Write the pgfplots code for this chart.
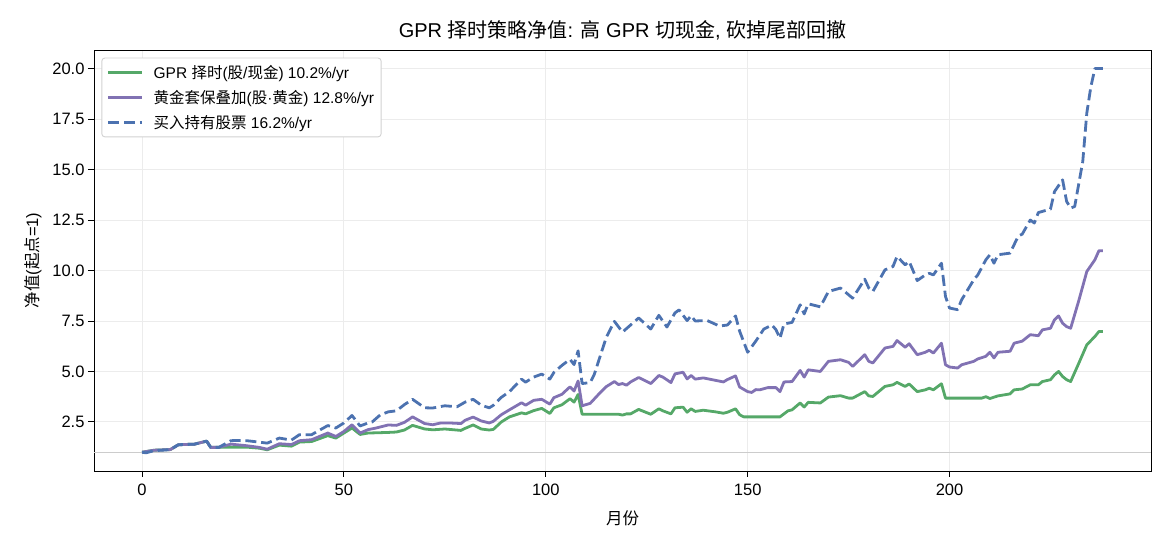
\documentclass[border=0pt]{standalone}
\usepackage{pgfplots}
\pgfplotsset{compat=1.18}
\usepackage{fontspec}
\setmainfont{Liberation Sans}
\newfontfamily\cjk{Noto Sans CJK SC}
\definecolor{cgreen}{HTML}{55A868}
\definecolor{cpurple}{HTML}{8172B3}
\definecolor{cblue}{HTML}{4C72B0}
\begin{document}
\begin{tikzpicture}
\begin{axis}[
  name=ax,
  scale only axis,
  width=1057pt, height=421pt,
  xmin=-11.9, xmax=249.9,
  ymin=0.07, ymax=20.92,
  xtick={0,50,100,150,200},
  ytick={2.5,5,7.5,10,12.5,15,17.5,20},
  yticklabel style={/pgf/number format/.cd,fixed,fixed zerofill,precision=1},
  /pgf/number format/assume math mode=true,
  tick label style={font=\fontsize{16.5}{19}\selectfont},
  xticklabel style={yshift=-3pt},
  tick align=outside,
  tick pos=left,
  major tick length=6pt,
  every tick/.style={black, line width=0.9pt},
  axis line style={line width=0.9pt},
  grid=major,
  major grid style={color=gray!15, line width=0.9pt},
  title={GPR {\cjk 择时策略净值}: {\cjk 高} GPR {\cjk 切现金}, {\cjk 砍掉尾部回撤}},
  title style={font=\fontsize{20}{24}\selectfont, yshift=0pt},
  xlabel={\cjk 月份},
  ylabel={{\cjk 净值}({\cjk 起点}=1)},
  label style={font=\fontsize{16.5}{19}\selectfont},
  xlabel style={yshift=-9pt},
  ylabel style={yshift=4pt},
  legend cell align=left,
  legend style={at={(0.007,0.982)}, anchor=north west, draw=gray!35, rounded corners=3pt,
    line width=0.9pt, font=\fontsize{15.5}{18}\selectfont, row sep=6.5pt,
    inner xsep=5pt, inner ysep=5pt},
  legend image code/.code={\draw[#1, line width=2.8pt] (0pt,0pt) -- (34pt,0pt); \path (42pt,0pt);},
]
\addplot[gray!40, line width=1.4pt, forget plot] coordinates {(-11.9,1) (249.9,1)};
\addplot[cgreen, line width=2.8pt, line join=round] table {
x y
0 1.0
3 1.1
7 1.13
9 1.37
13 1.4
16 1.55
17 1.24
19 1.24
22 1.25
26 1.25
29 1.2
31 1.12
34 1.35
37 1.3
39 1.5
42 1.53
46 1.82
48 1.7
50 1.95
52 2.2
54 1.88
56 1.95
61 1.98
63 2.0
65 2.1
67 2.33
70 2.15
72 2.11
75 2.15
79 2.08
80 2.18
82 2.35
84 2.15
86 2.1
87 2.13
89 2.5
91 2.75
94 2.95
95 2.9
97 3.06
99 3.17
101 2.92
102 3.2
104 3.35
106 3.65
107 3.48
108 3.86
109 2.88
118 2.88
119 2.84
120 2.9
121 2.9
123 3.12
126 2.88
128 3.15
129 3.05
131 2.9
132 3.2
134 3.23
135 2.98
136 3.15
137 3.02
139 3.08
142 3.0
144 2.93
145 2.98
147 3.15
148 2.86
149 2.75
158 2.75
160 3.05
161 3.1
163 3.44
164 3.24
165 3.47
168 3.44
170 3.73
173 3.8
175 3.68
176 3.68
179 4.0
180 3.79
181 3.76
184 4.26
186 4.34
187 4.46
189 4.26
190 4.38
192 4.0
194 4.09
195 4.17
196 4.09
198 4.39
199 3.68
208 3.68
209 3.75
210 3.66
212 3.79
215 3.89
216 4.09
218 4.13
220 4.34
222 4.34
223 4.5
225 4.59
226 4.83
227 5.0
228 4.75
229 4.59
230 4.5
232 5.4
234 6.32
236 6.73
237 6.98
238 6.98
};
\addlegendentry{GPR {\cjk 择时}({\cjk 股}/{\cjk 现金}) 10.2\%/yr}
\addplot[cpurple, line width=2.8pt, line join=round] table {
x y
0 1.0
3 1.1
7 1.13
9 1.37
13 1.4
16 1.55
17 1.24
19 1.24
22 1.4
26 1.32
29 1.24
31 1.15
34 1.42
37 1.38
39 1.57
42 1.62
46 1.95
48 1.78
50 2.03
52 2.36
54 1.95
56 2.12
58 2.2
61 2.35
63 2.33
65 2.48
67 2.75
70 2.42
72 2.36
74 2.45
76 2.45
79 2.42
80 2.58
82 2.74
84 2.55
86 2.45
87 2.53
89 2.86
91 3.1
94 3.45
95 3.33
97 3.57
99 3.62
101 3.38
102 3.7
104 3.87
106 4.24
107 4.03
108 4.53
109 3.3
111 3.42
113 3.85
115 4.25
117 4.5
118 4.35
119 4.4
120 4.32
121 4.48
123 4.7
126 4.4
128 4.8
129 4.72
131 4.45
132 4.88
134 4.96
135 4.63
136 4.8
137 4.62
139 4.68
142 4.56
144 4.48
145 4.6
147 4.78
148 4.23
150 4.0
151 3.96
152 4.1
153 4.09
155 4.2
157 4.2
158 4.0
159 4.48
161 4.5
163 5.05
164 4.72
165 5.08
168 5.0
170 5.5
173 5.58
175 5.45
176 5.25
179 5.83
180 5.5
181 5.42
184 6.16
186 6.24
187 6.53
189 6.2
190 6.37
192 5.83
194 5.95
195 6.05
196 5.91
198 6.4
199 5.33
200 5.22
202 5.17
203 5.33
206 5.5
207 5.62
209 5.75
210 5.95
211 5.67
212 5.95
215 6.0
216 6.4
218 6.5
220 6.82
222 6.77
223 7.06
225 7.14
226 7.56
227 7.75
228 7.39
229 7.22
230 7.14
232 8.5
234 9.95
236 10.53
237 10.98
238 10.98
};
\addlegendentry{{\cjk 黄金套保叠加}({\cjk 股}·{\cjk 黄金}) 12.8\%/yr}
\addplot[cblue, line width=2.8pt, dash pattern=on 11pt off 4.8pt, line join=round] table {
x y
0 1.0
1 0.97
3 1.08
5 1.1
7 1.13
9 1.37
13 1.4
16 1.55
17 1.24
19 1.24
22 1.57
23 1.58
26 1.57
29 1.5
31 1.45
34 1.7
37 1.6
39 1.87
42 1.87
46 2.32
48 2.2
50 2.45
52 2.82
54 2.3
56 2.45
57 2.5
59 2.85
61 3.0
63 3.05
65 3.36
67 3.62
70 3.2
72 3.19
75 3.3
78 3.25
80 3.48
82 3.62
84 3.33
86 3.2
87 3.32
89 3.72
91 4.0
94 4.62
95 4.47
97 4.72
99 4.87
101 4.62
102 4.95
104 5.3
106 5.6
107 5.34
108 6.02
109 4.4
111 4.45
112 4.85
115 6.7
117 7.48
119 6.95
121 7.3
123 7.65
126 7.1
128 7.78
130 7.2
132 7.9
133 8.05
135 7.52
136 7.76
137 7.5
140 7.52
143 7.25
145 7.3
147 7.75
148 7.0
150 5.95
152 6.5
154 7.1
156 7.3
157 7.07
158 6.64
159 7.35
161 7.43
163 8.3
164 7.85
165 8.35
168 8.2
170 8.96
173 9.13
176 8.63
179 9.57
180 9.13
181 8.96
184 10.03
186 10.2
187 10.7
189 10.28
190 10.45
192 9.5
194 9.78
195 9.86
196 9.78
198 10.36
199 8.71
200 8.14
202 8.06
203 8.55
206 9.54
207 9.78
209 10.53
210 10.78
211 10.36
212 10.78
215 10.86
217 11.7
218 11.8
220 12.5
221 12.35
222 12.87
225 13.04
226 13.91
228 14.49
229 13.42
230 13.09
231 13.17
233 15.4
234 17.8
235 19.1
236 20.0
238 20.0
};
\addlegendentry{{\cjk 买入持有股票} 16.2\%/yr}
\end{axis}
\path ([shift={(-94pt,-75pt)}]ax.south west) rectangle ([shift={(19pt,50pt)}]ax.north east);
\end{tikzpicture}
\end{document}
